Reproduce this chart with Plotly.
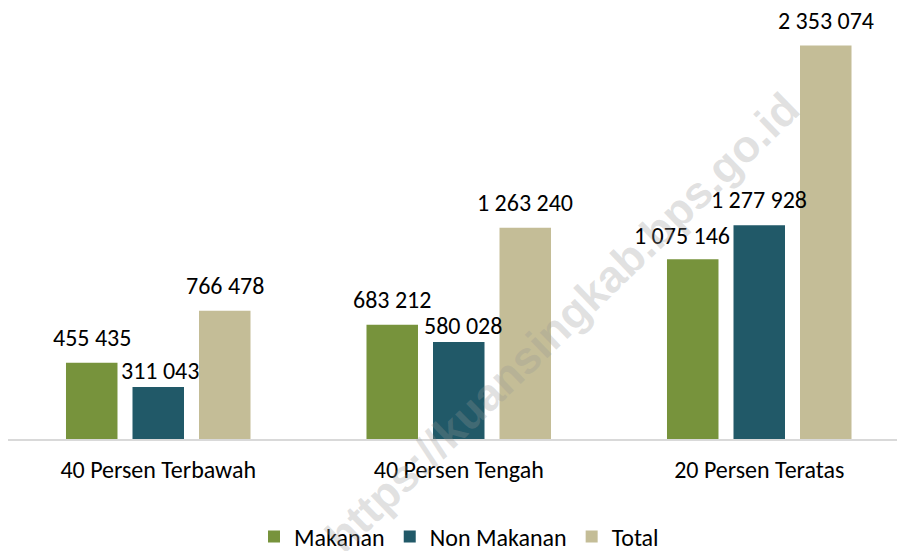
import plotly.graph_objects as go

categories = ["40 Persen Terbawah", "40 Persen Tengah", "20 Persen Teratas"]
makanan = [455435, 683212, 1075146]
non_makanan = [311043, 580028, 1277928]
total = [766478, 1263240, 2353074]

series = [
    ("Makanan", makanan, "#77933C"),
    ("Non Makanan", non_makanan, "#215968"),
    ("Total", total, "#C4BD97"),
]

FONT = "Carlito, Calibri, Lato, sans-serif"
BARGAP = 0.336
BARGROUPGAP = 0.2256
SLOT = 300.5 * (1 - BARGAP) / 3  # pixel width of one bar slot within a group

# small pixel nudges of individual data labels (as placed in the original)
label_nudge = {
    ("Non Makanan", "40 Persen Terbawah"): (2, -9),
    ("Non Makanan", "40 Persen Tengah"): (4, -9),
    ("Makanan", "20 Persen Teratas"): (-11, -2),
}

def fmt(v):
    return f"{v:,}".replace(",", " ")

fig = go.Figure()
for i, (name, vals, color) in enumerate(series):
    fig.add_trace(go.Bar(
        name=name, x=categories, y=vals,
        marker=dict(color=color, line=dict(width=0)),
        hoverinfo="x+y+name",
    ))
    for cat, v in zip(categories, vals):
        dx, dy = label_nudge.get((name, cat), (0, 0))
        fig.add_annotation(
            x=cat, y=v, xref="x", yref="y", text=fmt(v), showarrow=False,
            xanchor="center", yanchor="bottom", xshift=(i - 1) * SLOT + dx, yshift=9 + dy,
            font=dict(family=FONT, size=24, color="#000000"),
        )

fig.update_layout(
    width=897, height=551,
    margin=dict(l=8, r=0, t=21, b=112, autoexpand=False),
    paper_bgcolor="white", plot_bgcolor="white",
    barmode="group", bargap=BARGAP, bargroupgap=BARGROUPGAP,
    font=dict(family=FONT, size=24, color="#000000"),
    showlegend=True,
    legend=dict(orientation="h", x=(459 - 8) / 889, xanchor="center", y=-0.234, yanchor="middle",
                font=dict(family=FONT, size=24, color="#000000"), itemwidth=30,
                traceorder="normal"),
    xaxis=dict(range=[-0.5, -0.5 + 889 / 300.5], showline=True, linecolor="#D9D9D9", linewidth=1.5,
               showgrid=False, ticks="", ticklabelstandoff=8,
               tickfont=dict(family=FONT, size=24, color="#000000")),
    yaxis=dict(range=[0, 2500000], visible=False, showgrid=False),
)

fig.add_annotation(
    text="<b>https://kuansingkab.bps.go.id</b>", xref="paper", yref="paper",
    x=(562 - 8) / 889, y=(439 - 322) / 418, xanchor="center", yanchor="middle",
    textangle=-44, showarrow=False,
    font=dict(family="Liberation Sans, Arial, sans-serif", size=45, color="rgba(150,150,150,0.28)"),
)

fig.write_html("out.html", config={"displayModeBar": False},
               post_script="document.body.style.margin='0';document.body.style.padding='0';")
